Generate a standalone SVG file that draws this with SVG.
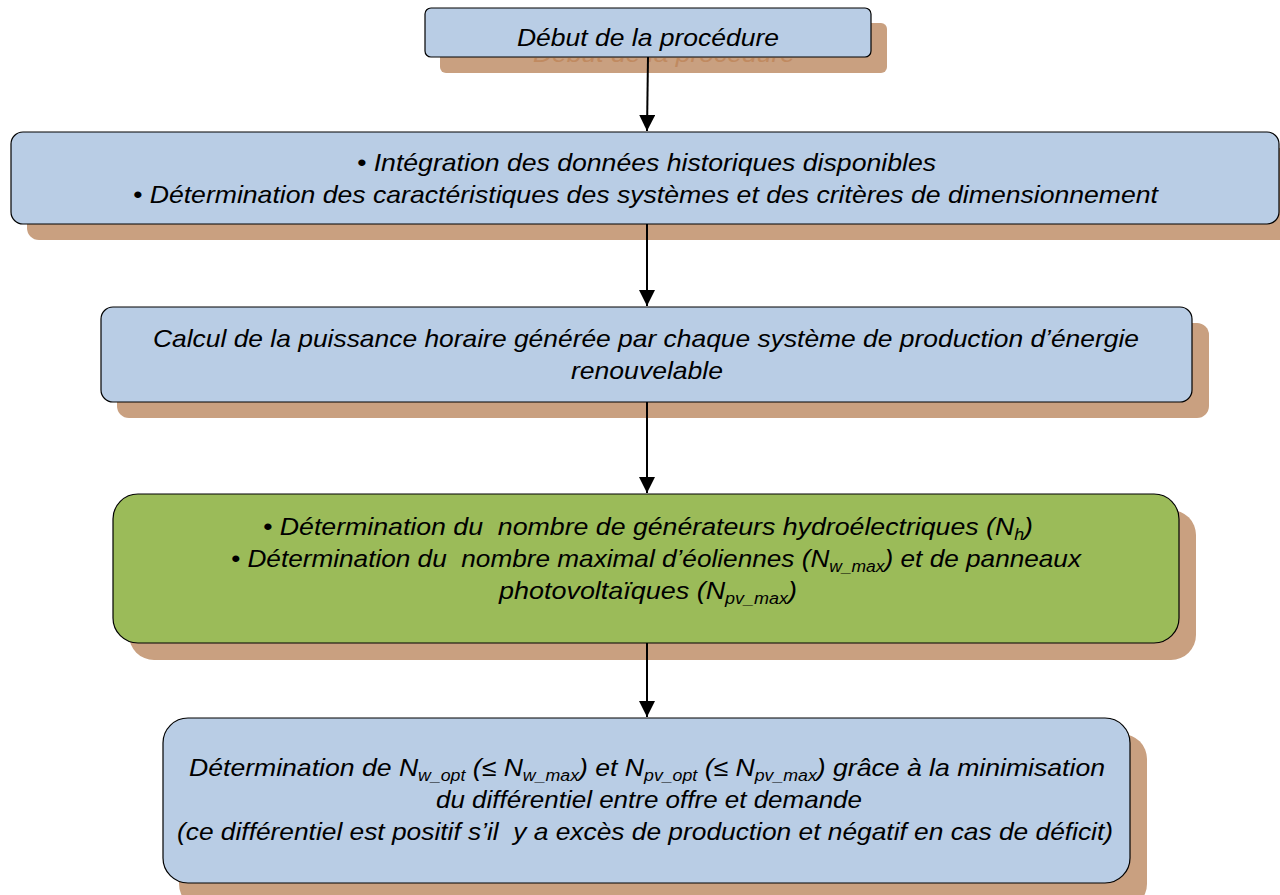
<svg xmlns="http://www.w3.org/2000/svg" width="1280" height="895" viewBox="0 0 1280 895">
<style>
.shadow{fill:#c9a080}
.blue{fill:#b9cde5;stroke:#000;stroke-width:1.2}
.green{fill:#9bbb59;stroke:#000;stroke-width:1.2}
text{font-family:"Liberation Sans",Arial,sans-serif;font-style:italic;font-size:24px;fill:#000;white-space:pre}
.ghost{fill:#c08a60}
.conn{stroke:#000;stroke-width:2;fill:none}
</style>
<defs>
<marker id="ah" markerWidth="16" markerHeight="16" refX="16" refY="8" orient="auto" markerUnits="userSpaceOnUse" viewBox="0 0 16 16">
<path d="M0,0 L16,8 L0,16 Z" fill="#000"/>
</marker>
<clipPath id="below1"><rect x="430" y="58" width="470" height="20"/></clipPath>
</defs>
<g id="n1">
<rect class="shadow" x="440" y="23" width="447" height="50" rx="6"/>
<g clip-path="url(#below1)"><text class="ghost" x="533" y="62" textLength="262" lengthAdjust="spacingAndGlyphs">Début de la procédure</text></g>
<rect class="blue" x="425" y="8" width="446" height="49" rx="6"/>
<text x="517" y="46" textLength="262" lengthAdjust="spacingAndGlyphs">Début de la procédure</text>
</g>
<g id="n2">
<rect class="shadow" x="27" y="148" width="1270" height="92" rx="12"/>
<rect class="blue" x="11" y="132" width="1268" height="92" rx="12"/>
<text x="357" y="171" textLength="579" lengthAdjust="spacingAndGlyphs">• Intégration des données historiques disponibles</text>
<text x="133" y="203" textLength="1025" lengthAdjust="spacingAndGlyphs">• Détermination des caractéristiques des systèmes et des critères de dimensionnement</text>
</g>
<g id="n3">
<rect class="shadow" x="117" y="323" width="1092" height="95" rx="12"/>
<rect class="blue" x="101" y="307" width="1091" height="95" rx="12"/>
<text x="153" y="347" textLength="986" lengthAdjust="spacingAndGlyphs">Calcul de la puissance horaire générée par chaque système de production d’énergie</text>
<text x="571" y="379" textLength="152" lengthAdjust="spacingAndGlyphs">renouvelable</text>
</g>
<g id="n4">
<rect class="shadow" x="129" y="510" width="1067" height="150" rx="25"/>
<rect class="green" x="113" y="494" width="1066" height="149" rx="25"/>
<text x="263" y="535" textLength="770" lengthAdjust="spacingAndGlyphs">• Détermination du  nombre de générateurs hydroélectriques (N<tspan font-size="16" dy="5">h</tspan><tspan dy="-5">)</tspan></text>
<text x="231" y="567" textLength="850" lengthAdjust="spacingAndGlyphs">• Détermination du  nombre maximal d’éoliennes (N<tspan font-size="16" dy="5">w_max</tspan><tspan dy="-5">) et de panneaux</tspan></text>
<text x="499" y="599" textLength="298" lengthAdjust="spacingAndGlyphs">photovoltaïques (N<tspan font-size="16" dy="5">pv_max</tspan><tspan dy="-5">)</tspan></text>
</g>
<g id="n5">
<rect class="shadow" x="179" y="734" width="968" height="175" rx="25"/>
<rect class="blue" x="163" y="718" width="967" height="165" rx="25"/>
<text x="189" y="776" textLength="916" lengthAdjust="spacingAndGlyphs">Détermination de N<tspan font-size="16" dy="5">w_opt</tspan><tspan dy="-5"> (≤ N</tspan><tspan font-size="16" dy="5">w_max</tspan><tspan dy="-5">) et N</tspan><tspan font-size="16" dy="5">pv_opt</tspan><tspan dy="-5"> (≤ N</tspan><tspan font-size="16" dy="5">pv_max</tspan><tspan dy="-5">) grâce à la minimisation</tspan></text>
<text x="436" y="808" textLength="426" lengthAdjust="spacingAndGlyphs">du différentiel entre offre et demande</text>
<text x="177" y="840" textLength="936" lengthAdjust="spacingAndGlyphs">(ce différentiel est positif s’il  y a excès de production et négatif en cas de déficit)</text>
</g>
<g id="connectors">
<line class="conn" x1="648" y1="57" x2="647" y2="131" marker-end="url(#ah)"/>
<line class="conn" x1="647" y1="224" x2="647" y2="306" marker-end="url(#ah)"/>
<line class="conn" x1="647" y1="402" x2="647" y2="493" marker-end="url(#ah)"/>
<line class="conn" x1="647" y1="643" x2="647" y2="717" marker-end="url(#ah)"/>
</g>
</svg>
